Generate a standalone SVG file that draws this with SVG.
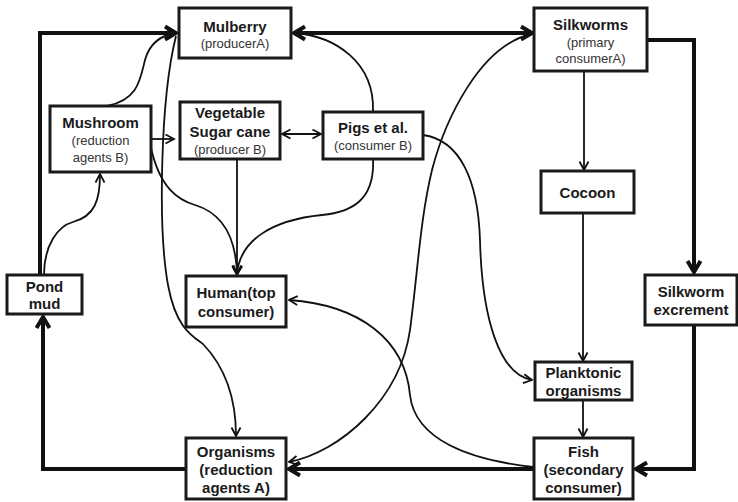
<svg xmlns="http://www.w3.org/2000/svg" width="738" height="502" viewBox="0 0 738 502">
<style>
.box{fill:#fff;stroke:#1a1a1a;stroke-width:3}
.t{font-family:"Liberation Sans",Arial,sans-serif;font-weight:bold;font-size:15px;fill:#1a1a1a;text-anchor:middle}
.s{font-family:"Liberation Sans",Arial,sans-serif;font-size:13px;fill:#333;text-anchor:middle}
.thin{fill:none;stroke:#111;stroke-width:1.8}
.thick{fill:none;stroke:#111;stroke-width:4}
</style>
<defs>
<marker id="a" markerUnits="userSpaceOnUse" viewBox="0 0 12 12" refX="10.5" refY="6" markerWidth="12" markerHeight="12" orient="auto-start-reverse">
<path d="M2,1.5 L10.5,6 L2,10.5" fill="none" stroke="#111" stroke-width="1.8"/>
</marker>
<marker id="b" markerUnits="userSpaceOnUse" viewBox="0 0 18 18" refX="15" refY="9" markerWidth="18" markerHeight="18" orient="auto-start-reverse">
<path d="M4,2.5 L15,9 L4,15.5" fill="none" stroke="#111" stroke-width="4"/>
</marker>
</defs>
<g id="connectors">
<polyline class="thick" points="40,275 40,33 176,33" marker-end="url(#b)"/>
<line class="thick" x1="294" y1="33" x2="532" y2="33" marker-start="url(#b)" marker-end="url(#b)"/>
<polyline class="thick" points="647,40 694,40 694,272" marker-end="url(#b)"/>
<polyline class="thick" points="694,325 694,469 636,469" marker-end="url(#b)"/>
<line class="thick" x1="534" y1="469" x2="289" y2="469" marker-end="url(#b)"/>
<polyline class="thick" points="186,469 43,469 43,317" marker-end="url(#b)"/>
<line class="thin" x1="584" y1="71" x2="584" y2="170" marker-end="url(#a)"/>
<line class="thin" x1="583" y1="213" x2="583" y2="361" marker-end="url(#a)"/>
<line class="thin" x1="583" y1="400" x2="583" y2="437" marker-end="url(#a)"/>
<line class="thin" x1="151" y1="139" x2="174" y2="139" marker-end="url(#a)"/>
<line class="thin" x1="282" y1="134" x2="321" y2="134" marker-start="url(#a)" marker-end="url(#a)"/>
<line class="thin" x1="237" y1="159" x2="237" y2="275" marker-end="url(#a)"/>
<path class="thin" d="M44 275 C44 245 58 226 73 222 C95 216 100 200 100 174" marker-end="url(#a)"/>
<path class="thin" d="M107 106 C138 100 140 80 145 60 C150 42 162 35 176 33" marker-end="url(#a)"/>
<path class="thin" d="M151 148 C160 188 178 200 195 205 C225 214 236 240 237 274" marker-end="url(#a)"/>
<path class="thin" d="M373 159 C375 200 352 212 322 215 C272 220 240 240 237 274" marker-end="url(#a)"/>
<path class="thin" d="M373 112 C375 62 335 36 294 33" marker-end="url(#a)"/>
<path class="thin" d="M176 36 C160 100 158 230 168 285 C176 328 192 336 203 344 C226 368 236 400 236 436" marker-end="url(#a)"/>
<path class="thin" d="M532 34 C480 45 445 120 432 170 C420 220 418 270 410 330 C400 400 340 452 289 462" marker-end="url(#a)"/>
<path class="thin" d="M533 467 C470 460 415 440 410 395 C405 340 360 305 289 300" marker-end="url(#a)"/>
<path class="thin" d="M423 135 C460 140 478 180 480 240 C482 320 500 375 532 380" marker-end="url(#a)"/>
</g>
<g id="mulberry"><rect class="box" x="179" y="8" width="112" height="50"/><text class="t" x="235" y="32">Mulberry</text><text class="s" x="235" y="48">(producerA)</text></g>
<g id="silkworms"><rect class="box" x="534" y="8" width="113" height="63"/><text class="t" x="590.5" y="30">Silkworms</text><text class="s" x="590.5" y="47">(primary</text><text class="s" x="590.5" y="63">consumerA)</text></g>
<g id="cocoon"><rect class="box" x="541" y="171" width="93" height="42"/><text class="t" x="587.5" y="198">Cocoon</text></g>
<g id="mushroom"><rect class="box" x="50" y="106" width="101" height="66"/><text class="t" x="100.5" y="128">Mushroom</text><text class="s" x="100.5" y="145">(reduction</text><text class="s" x="100.5" y="162">agents B)</text></g>
<g id="vegetable"><rect class="box" x="180" y="102" width="100" height="57"/><text class="t" x="230" y="118">Vegetable</text><text class="t" x="230" y="137">Sugar cane</text><text class="s" x="230" y="154">(producer B)</text></g>
<g id="pigs"><rect class="box" x="323" y="112" width="100" height="47"/><text class="t" x="373" y="133">Pigs et al.</text><text class="s" x="373" y="150">(consumer B)</text></g>
<g id="pondmud"><rect class="box" x="7" y="275" width="75" height="39"/><text class="t" x="44.5" y="292">Pond</text><text class="t" x="44.5" y="309">mud</text></g>
<g id="human"><rect class="box" x="186" y="276" width="100" height="51"/><text class="t" x="236" y="298">Human(top</text><text class="t" x="236" y="317">consumer)</text></g>
<g id="organisms"><rect class="box" x="186" y="438" width="100" height="61"/><text class="t" x="236" y="457">Organisms</text><text class="t" x="236" y="475">(reduction</text><text class="t" x="236" y="493">agents A)</text></g>
<g id="excrement"><rect class="box" x="645" y="275" width="92" height="50"/><text class="t" x="691" y="297">Silkworm</text><text class="t" x="691" y="315">excrement</text></g>
<g id="planktonic"><rect class="box" x="535" y="362" width="97" height="38"/><text class="t" x="583.5" y="378">Planktonic</text><text class="t" x="583.5" y="396">organisms</text></g>
<g id="fish"><rect class="box" x="534" y="438" width="99" height="61"/><text class="t" x="583.5" y="457">Fish</text><text class="t" x="583.5" y="475">(secondary</text><text class="t" x="583.5" y="493">consumer)</text></g>
</svg>
